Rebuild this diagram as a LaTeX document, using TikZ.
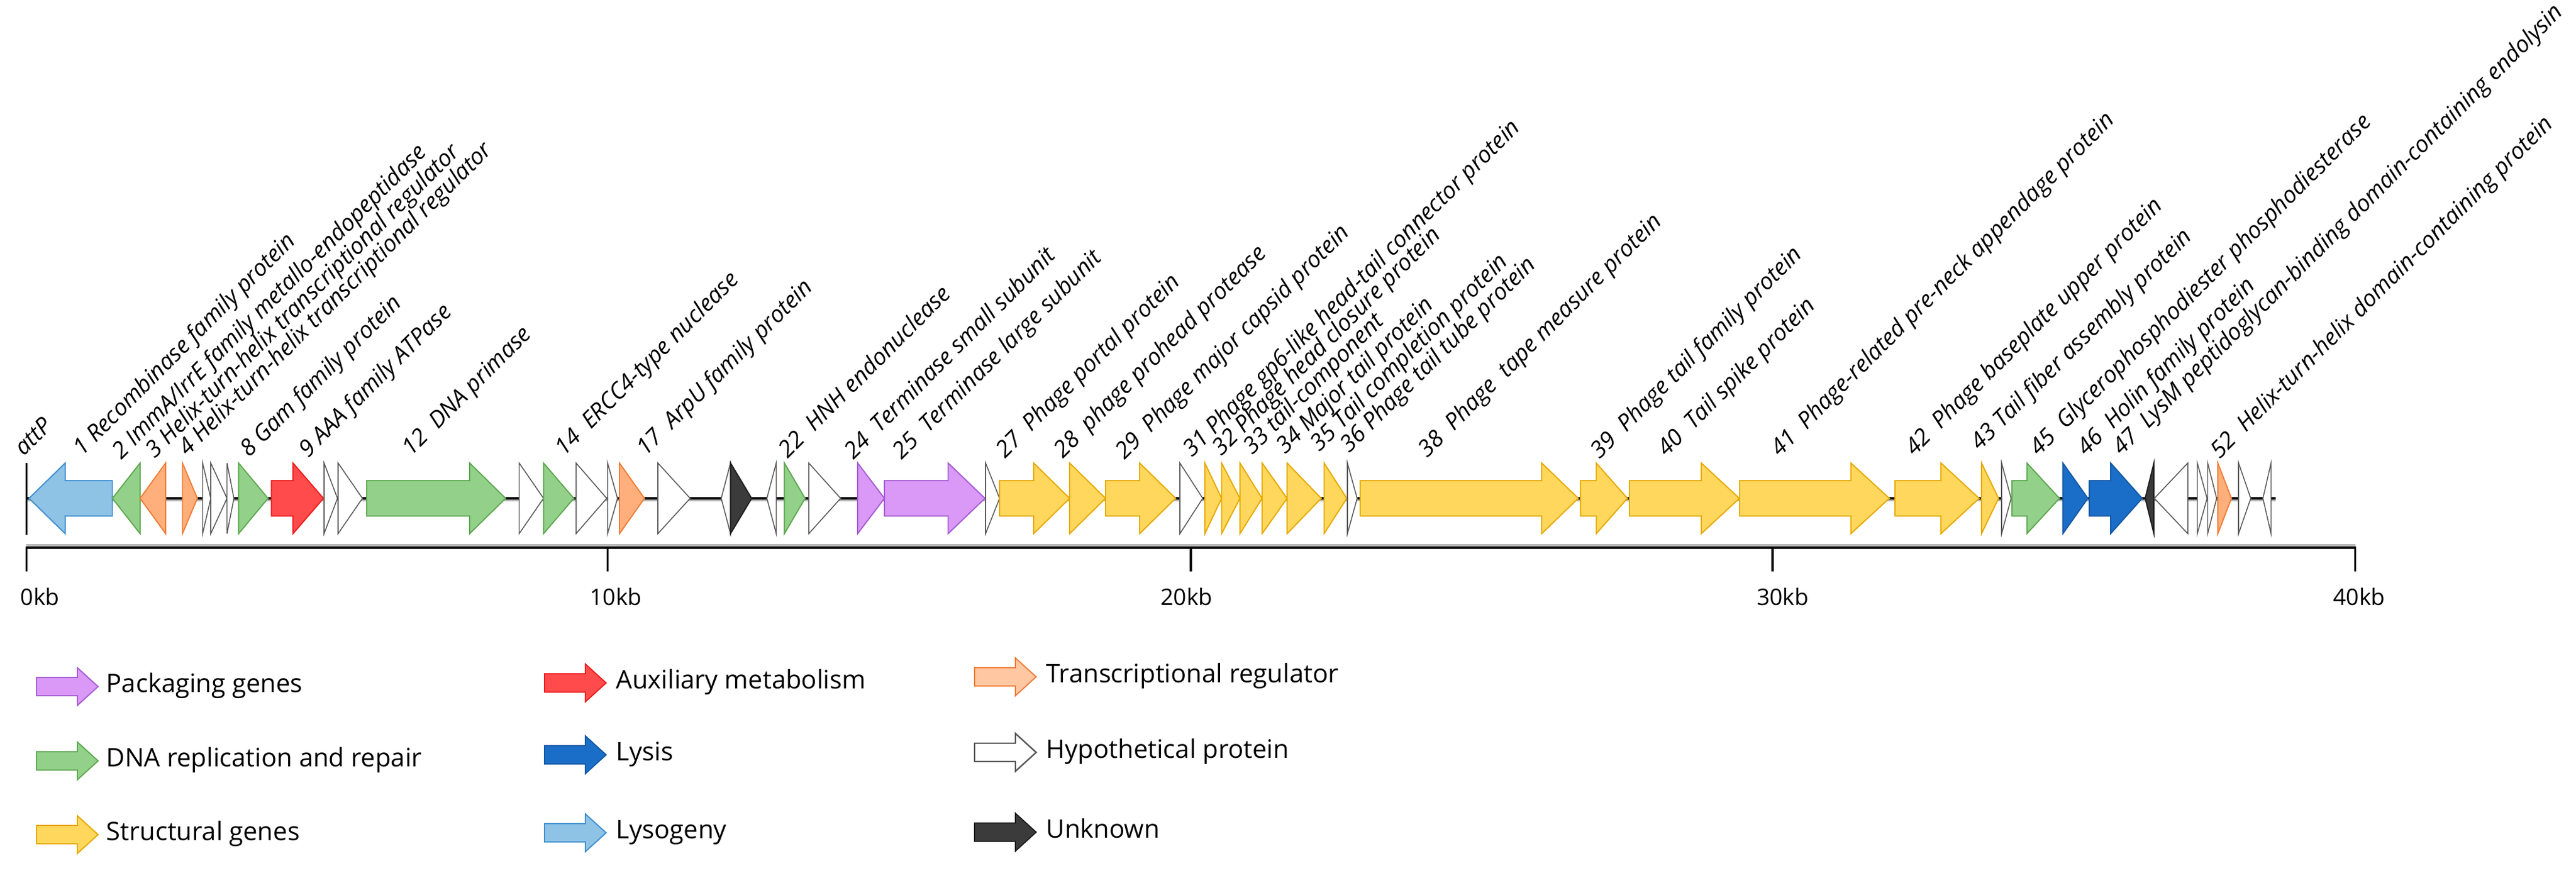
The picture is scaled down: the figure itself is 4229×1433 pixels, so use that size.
\documentclass[tikz,border=0pt]{standalone}
\usepackage{fontspec}
\setmainfont{Open Sans}
\definecolor{lysoF}{HTML}{8EC3E6}\definecolor{lysoD}{HTML}{3E8ED0}
\definecolor{dnaF}{HTML}{93D18B}\definecolor{dnaD}{HTML}{5DA84F}
\definecolor{trF}{HTML}{FFAF7B}\definecolor{trD}{HTML}{F07D36}
\definecolor{trL}{HTML}{FFC7A2}
\definecolor{auxF}{HTML}{FF4B4B}\definecolor{auxD}{HTML}{EE1C1C}
\definecolor{packF}{HTML}{DA99F7}\definecolor{packD}{HTML}{A65CD2}
\definecolor{strF}{HTML}{FED75C}\definecolor{strD}{HTML}{E6A900}
\definecolor{lysF}{HTML}{1B6EC7}\definecolor{lysD}{HTML}{1257A6}
\definecolor{unkF}{HTML}{3B3B3B}\definecolor{unkD}{HTML}{1E1E1E}
\newcommand\geneR[4]{\draw[#4] (#1,789) -- (#3,789) -- (#3,760) -- (#2,818) -- (#3,876) -- (#3,847) -- (#1,847) -- cycle;}
\newcommand\geneL[4]{\draw[#4] (#2,789) -- (#3,789) -- (#3,760) -- (#1,818) -- (#3,876) -- (#3,847) -- (#2,847) -- cycle;}
\newcommand\triR[3]{\draw[#3] (#1,760) -- (#2,818) -- (#1,876) -- cycle;}
\newcommand\triL[3]{\draw[#3] (#2,760) -- (#1,818) -- (#2,876) -- cycle;}
\newcommand\legarrow[3]{\draw[#3] (#1,#2-15) -- (#1+67,#2-15) -- (#1+67,#2-31) -- (#1+101,#2) -- (#1+67,#2+31) -- (#1+67,#2+15) -- (#1,#2+15) -- cycle;}
\begin{document}
\begin{tikzpicture}[x=0.01cm,y=-0.01cm,
  gbase/.style={line width=0.55pt,line join=miter},
  lyso/.style={gbase,fill=lysoF,draw=lysoD},
  dna/.style={gbase,fill=dnaF,draw=dnaD},
  tr/.style={gbase,fill=trF,draw=trD},
  trl/.style={gbase,fill=trL,draw=trD},
  aux/.style={gbase,fill=auxF,draw=auxD},
  pack/.style={gbase,fill=packF,draw=packD},
  str/.style={gbase,fill=strF,draw=strD},
  lys/.style={gbase,fill=lysF,draw=lysD},
  unk/.style={gbase,fill=unkF,draw=unkD},
  hyp/.style={line width=0.45pt,fill=white,draw=black!65},
  hypl/.style={line width=0.7pt,fill=white,draw=black!65},
  glabel/.style={font=\fontsize{10.8}{13}\selectfont\itshape,anchor=base west,rotate=45,inner sep=0pt},
  leglabel/.style={font=\fontsize{11.9}{14}\selectfont,anchor=mid west,inner sep=0pt},
  scalelabel/.style={font=\fontsize{10.6}{13}\selectfont,anchor=center,inner sep=0pt}]
\useasboundingbox (0,0) rectangle (4229,1433);
% backbone
\draw[line width=1.6pt,black!30] (43,820) -- (3736,820);
\draw[line width=1.1pt,black] (43,818) -- (3736,818);
\draw[line width=0.6pt] (43.5,760) -- (43.5,878);
% genes
\geneL{47.7}{184.5}{107}{lyso}
\triL{184.5}{230}{dna}
\triL{230}{272}{tr}
\triR{299.5}{324}{tr}
\triR{332.7}{346}{hyp}
\triR{346}{372.7}{hyp}
\triR{372.7}{384}{hyp}
\triR{391.7}{440}{dna}
\geneR{445.5}{531}{481}{aux}
\triR{532}{554}{hyp}
\triR{555}{595}{hyp}
\geneR{602}{830}{771}{dna}
\triR{852.3}{892.3}{hyp}
\triR{892.3}{942}{dna}
\triR{945.7}{996}{hyp}
\triR{997.5}{1013.7}{hyp}
\triR{1017}{1058}{tr}
\triR{1080}{1133}{hyp}
\triL{1184}{1199.3}{hyp}
\triR{1199.3}{1234}{unk}
\triL{1259}{1274.3}{hyp}
\triR{1287.7}{1321.7}{dna}
\triR{1327.7}{1380}{hyp}
\triR{1408}{1452}{pack}
\geneR{1452}{1617}{1556.5}{pack}
\triR{1618}{1641}{hyp}
\geneR{1641}{1756}{1697}{str}
\triR{1756}{1815}{str}
\geneR{1815}{1930}{1871}{str}
\triR{1937}{1974.5}{hyp}
\triR{1978}{2005.5}{str}
\triR{2005.5}{2035.6}{str}
\triR{2035.6}{2072}{str}
\triR{2072}{2113}{str}
\triR{2113}{2169}{str}
\triR{2173.7}{2211}{str}
\triR{2212}{2228}{hyp}
\geneR{2233}{2591}{2531}{str}
\geneR{2594.6}{2671.7}{2620.5}{str}
\geneR{2675}{2855.5}{2793}{str}
\geneR{2856}{3101.7}{3038.6}{str}
\geneR{3110.8}{3249}{3186.4}{str}
\triR{3253}{3281}{str}
\triR{3286}{3301.6}{hyp}
\geneR{3303}{3381}{3327.5}{dna}
\triR{3386.6}{3427.6}{lys}
\geneR{3429.8}{3516.7}{3465}{lys}
\triL{3521.7}{3536}{unk}
\triL{3536.7}{3591.7}{hyp}
\triR{3607.3}{3623.3}{hyp}
\triR{3624.3}{3639}{hyp}
\triR{3641}{3663.3}{tr}
\triR{3675}{3695}{hyp}
\triL{3715}{3728.3}{hyp}
% gene labels
\node[glabel] (lattP) at (38.8,750) {attP};
\node[glabel] (l1) at (135,750) {1 Recombinase family protein};
\node[glabel] (l2) at (199,755.5) {2 ImmA/IrrE family metallo-endopeptidase};
\node[glabel] (l3) at (254.5,753.5) {3 Helix-turn-helix transcriptional regulator};
\node[glabel] (l4) at (308,750) {4 Helix-turn-helix transcriptional regulator};
\node[glabel] (l8) at (409,752) {8 Gam family protein};
\node[glabel] (l9) at (505.5,752.5) {9 AAA family ATPase};
\node[glabel] (l12) at (675,750) {12\ \ DNA primase};
\node[glabel] (l14) at (926,750) {14\ \ ERCC4-type nuclease};
\node[glabel] (l17) at (1060,750) {17\ \ ArpU family protein};
\node[glabel] (l22) at (1293.4,754) {22\ \ HNH endonuclease};
\node[glabel] (l24) at (1400.7,756) {24\ \ Terminase small subunit};
\node[glabel] (l25) at (1480,756) {25\ \ Terminase large subunit};
\node[glabel] (l27) at (1649.7,754) {27\ \ Phage portal protein};
\node[glabel] (l28) at (1744.7,754) {28\ \ phage prohead protease};
\node[glabel] (l29) at (1845.8,756) {29\ \ Phage major capsid protein};
\node[glabel] (l31) at (1957,752) {31 Phage gp6-like head-tail connector protein};
\node[glabel] (l32) at (2005,750) {32 Phage head closure protein};
\node[glabel] (l33) at (2056,747.5) {33 tail-component};
\node[glabel] (l34) at (2110,747) {34 Major tail protein};
\node[glabel] (l35) at (2166,743) {35 Tail completion protein};
\node[glabel] (l36) at (2215,745) {36 Phage tail tube protein};
\node[glabel] (l38) at (2343,752.5) {38\ \ Phage\ \ tape measure protein};
\node[glabel] (l39) at (2626,754.5) {39\ \ Phage tail family protein};
\node[glabel] (l40) at (2736,750.5) {40\ \ Tail spike protein};
\node[glabel] (l41) at (2922,750.5) {41\ \ Phage-related pre-neck appendage protein};
\node[glabel] (l42) at (3142.5,750) {42\ \ Phage baseplate upper protein};
\node[glabel] (l43) at (3250,741) {43 Tail fiber assembly protein};
\node[glabel] (l45) at (3347,750) {45\ \ Glycerophosphodiester phosphodiesterase};
\node[glabel] (l46) at (3425,750) {46\ \ Holin family protein};
\node[glabel] (l47) at (3483,748.5) {47\ \ LysM peptidoglycan-binding domain-containing endolysin};
\node[glabel] (l52) at (3643.6,755) {52\ \ Helix-turn-helix domain-containing protein};
% scale bar
\draw[line width=1.2pt,black!28] (43,895.5) -- (3867,895.5);
\draw[line width=1.1pt,line cap=butt,line join=miter] (43.5,938) -- (43.5,899) -- (3866.5,899) -- (3866.5,938);
\foreach \t in {997.6,1955,2910} \draw[line width=0.9pt] (\t,899) -- (\t,938);
\node[scalelabel] (s0) at (65.6,980) {0kb};
\node[scalelabel] (s10) at (1011,980) {10kb};
\node[scalelabel] (s20) at (1948,980) {20kb};
\node[scalelabel] (s30) at (2926.6,980) {30kb};
\node[scalelabel] (s40) at (3873,980) {40kb};
% legend
\legarrow{60}{1127}{pack}
\node[leglabel] (g1) at (174,1127) {Packaging genes};
\legarrow{60}{1249}{dna}
\node[leglabel] (g2) at (174,1249) {DNA replication and repair};
\legarrow{60}{1370}{str}
\node[leglabel] (g3) at (174,1370) {Structural genes};
\legarrow{894}{1121}{aux}
\node[leglabel] (g4) at (1011,1121) {Auxiliary metabolism};
\legarrow{894}{1239}{lys}
\node[leglabel] (g5) at (1011,1239) {Lysis};
\legarrow{894}{1367}{lyso}
\node[leglabel] (g6) at (1011,1367) {Lysogeny};
\legarrow{1600}{1111}{trl}
\node[leglabel] (g7) at (1717,1111) {Transcriptional regulator};
\legarrow{1600}{1235}{hypl}
\node[leglabel] (g8) at (1717,1235) {Hypothetical protein};
\legarrow{1600}{1366}{unk}
\node[leglabel] (g9) at (1717,1366) {Unknown};
\end{tikzpicture}
\end{document}
